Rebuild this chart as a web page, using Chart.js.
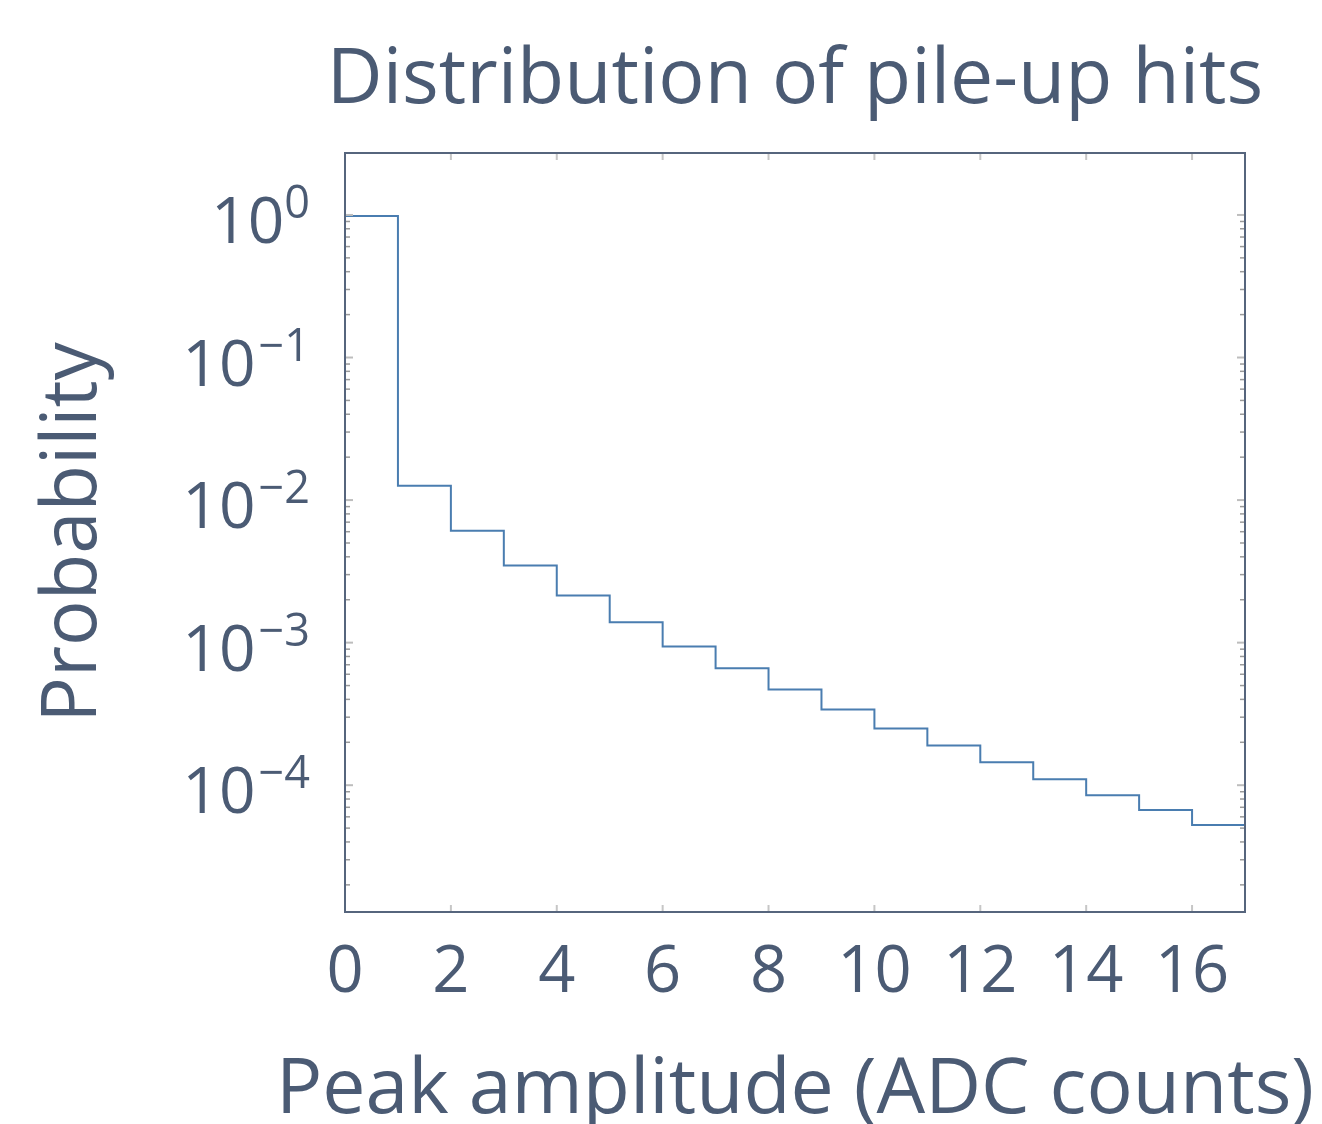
<!DOCTYPE html>
<html>
<head>
<meta charset="utf-8">
<script src="https://cdn.jsdelivr.net/npm/chart.js@4.4.1/dist/chart.umd.min.js"></script>
<style>
  html, body { margin: 0; padding: 0; background: #fff; }
  canvas { display: block; }
</style>
</head>
<body>
<canvas id="grafico" width="1322" height="1124"></canvas>
<script>
// ─── DATA ────────────────────────────────────────────────────────────────────
const binStart    = [0, 1, 2, 3, 4, 5, 6, 7, 8, 9, 10, 11, 12, 13, 14, 15, 16, 17];
const probability = [0.985, 0.0126, 0.0061, 0.00348, 0.00214, 0.00139, 0.00094, 0.00066,
                     0.00047, 0.00034, 0.00025, 0.00019, 0.000145, 0.00011, 0.000085,
                     0.000067, 0.0000525, 0.00004];
const xTicks    = [0, 2, 4, 6, 8, 10, 12, 14, 16];
const yDecades  = [0, -1, -2, -3, -4];
const chartTitle = "Distribution of pile-up hits";
const xTitle     = "Peak amplitude (ADC counts)";

const TEXT   = "#4b5b74";
const BORDER = "#56657d";
const LINE   = "#4a7db0";
const FONT   = "'Open Sans', 'Noto Sans', sans-serif";

// frame, inward ticks, 10^n labels, and the two long titles
// (drawn here: Chart.js squeezes titles wider than the plot area)
const framePlugin = {
  id: "frame",
  afterDatasetsDraw(chart){
    const { ctx, chartArea: a, scales: { x, y } } = chart;
    const seg = (x1, y1, x2, y2) => { ctx.beginPath(); ctx.moveTo(x1, y1); ctx.lineTo(x2, y2); ctx.stroke(); };
    const cx = (a.left + a.right) / 2;
    ctx.save();

    ctx.strokeStyle = "#c6c6c6"; ctx.lineWidth = 2;
    x.ticks.forEach(t => {
      const px = x.getPixelForValue(t.value);
      seg(px, a.bottom, px, a.bottom - 7);
      seg(px, a.top, px, a.top + 7);
    });

    y.ticks.forEach(t => {
      const v = t.value;
      if(v > 1.0001) return;
      const e = Math.floor(Math.log10(v) + 1e-9);
      const s = v / Math.pow(10, e);
      if(Math.abs(s - Math.round(s)) > 1e-6) return;
      const major = Math.round(s) === 1 || Math.round(s) === 10;
      const py = y.getPixelForValue(v);
      const len = major ? 8 : 5;
      ctx.strokeStyle = major ? "#bdbdbd" : "#9a9a9a";
      ctx.lineWidth = major ? 2 : 1.5;
      seg(a.left, py, a.left + len, py);
      seg(a.right, py, a.right - len, py);
    });

    ctx.strokeStyle = BORDER; ctx.lineWidth = 2;
    ctx.strokeRect(a.left, a.top, a.right - a.left, a.bottom - a.top);

    ctx.fillStyle = TEXT;
    ctx.textAlign = "right";
    ctx.textBaseline = "alphabetic";
    const rightEdge = a.left - 35;
    yDecades.forEach(d => {
      const py = y.getPixelForValue(Math.pow(10, d));
      const exp = d === 0 ? "0" : "\u2212" + Math.abs(d);
      ctx.font = `45px ${FONT}`;
      const w = ctx.measureText(exp).width;
      ctx.fillText(exp, rightEdge, py + 3);
      ctx.font = `64px ${FONT}`;
      ctx.fillText("10", rightEdge - w - (d === 0 ? 0 : 3), py + 28);
    });

    ctx.textAlign = "center";
    ctx.font = `77px ${FONT}`;
    ctx.fillText(chartTitle, cx, 103);
    ctx.fillText(xTitle, cx, 1113);
    ctx.restore();
  }
};

new Chart(document.getElementById("grafico").getContext("2d"), {
  type: "line",
  data: {
    datasets: [{
      data: binStart.map((b, i) => ({ x: b, y: probability[i] })),
      stepped: "before",
      borderColor: LINE,
      borderWidth: 2,
      pointRadius: 0,
      fill: false,
      clip: 0
    }]
  },
  options: {
    responsive: false,
    animation: false,
    layout: { padding: { left: 0, right: 77, top: 153, bottom: 0 } },
    plugins: {
      legend: { display: false },
      tooltip: { enabled: false },
      title: { display: false }
    },
    scales: {
      x: {
        type: "linear",
        min: 0, max: 17,
        grid: { display: false, drawTicks: false },
        border: { display: false },
        afterBuildTicks: s => { s.ticks = xTicks.map(v => ({ value: v })); },
        afterFit: s => { s.height = 212; },
        ticks: { color: TEXT, font: { family: FONT, size: 65 }, padding: 22, maxRotation: 0 }
      },
      y: {
        type: "logarithmic",
        min: 1.29e-5, max: 2.72,
        grid: { display: false, drawTicks: false },
        border: { display: false },
        afterFit: s => { s.width = 345; },
        ticks: { display: false, autoSkip: false },
        title: {
          display: true,
          text: "Probability",
          color: TEXT,
          font: { family: FONT, size: 76 },
          padding: { top: 29, bottom: 0 }
        }
      }
    }
  },
  plugins: [framePlugin]
});
</script>
</body>
</html>
